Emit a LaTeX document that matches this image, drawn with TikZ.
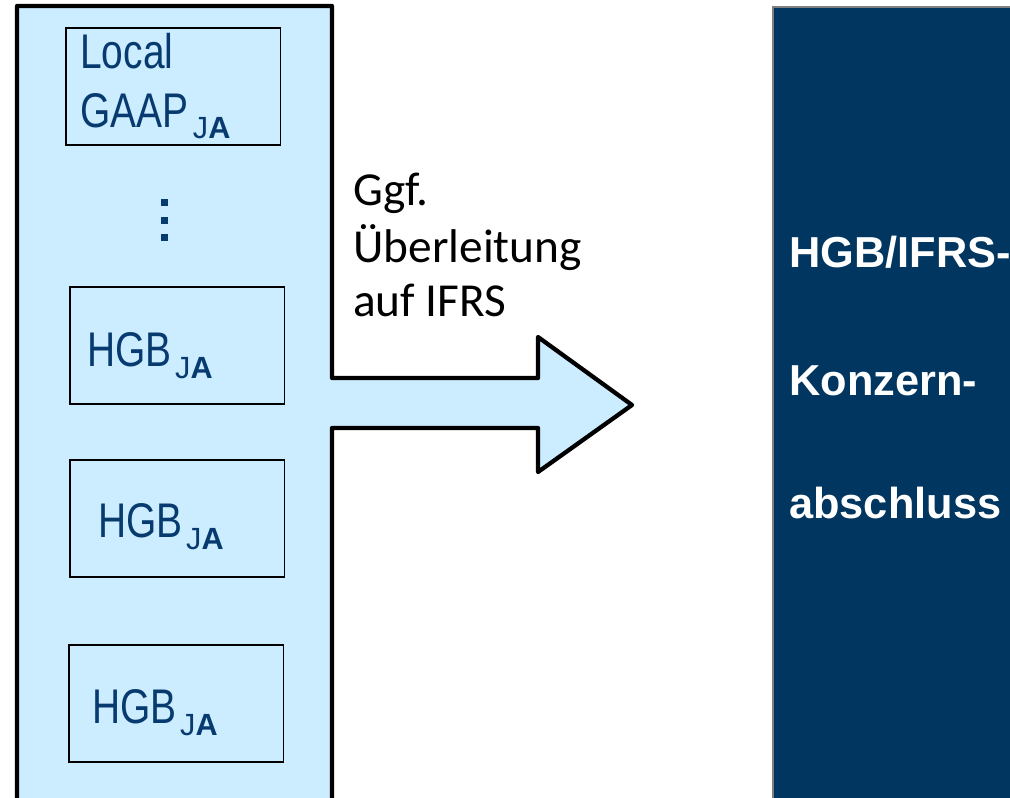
\documentclass[tikz,border=0pt]{standalone}
\usepackage{fontspec}
\usepackage{xcolor}
\usepackage{tikz}
\usetikzlibrary{calc}
\setmainfont{Liberation Sans}
\newfontfamily\narrowfont[FakeStretch=0.8]{Liberation Sans}
\newfontfamily\calfont{Carlito}
\definecolor{paleblue}{HTML}{CCECFF}
\definecolor{navy}{HTML}{00365F}
\definecolor{inkblue}{HTML}{073B70}

\tikzset{
  jabox/.style={draw=black, line width=1.2pt, minimum width=161pt, minimum height=87.75pt, inner sep=0pt, anchor=north west},
  jatext/.style={anchor=base west, inner sep=0pt, text=inkblue, font=\narrowfont\fontsize{36.5}{40}\selectfont},
  jasub/.style={anchor=base west, inner sep=0pt, text=inkblue, font=\fontsize{23}{25}\selectfont},
  note/.style={anchor=base west, inner sep=0pt, font=\calfont\fontsize{35.5}{42}\selectfont},
  ktext/.style={anchor=base west, inner sep=0pt, text=white, font=\bfseries\fontsize{32.5}{36}\selectfont},
}

\begin{document}
\begin{tikzpicture}[x=0.75pt, y=-0.75pt]
  \useasboundingbox (0,0) rectangle (1010,797);
  \clip (0,0) rectangle (1010,797);
  % Konzernabschluss
  \draw[fill=navy, draw=gray, line width=1.5pt] (773,7) rectangle (1030,820);
  \node[ktext] (k1) at (789,267) {HGB/IFRS-};
  \node[ktext] (k2) at (789,395) {Konzern-};
  \node[ktext] (k3) at (789,518) {abschluss};
  % Einzelabschluesse + Pfeil
  \draw[fill=paleblue, line width=3.2pt, line join=round]
    (17,6) -- (332,6) -- (332,378) -- (538,378) -- (538,337) -- (632,405)
    -- (538,472) -- (538,428) -- (332,428) -- (332,830) -- (17,830) -- cycle;
  \node[jabox] (local) at (65,27) {};
  \node[jatext] (localtxt) at (80,68) {Local};
  \node[jatext] (gaap) at (80,127) {GAAP};
  \node[jasub] (gaapsub) at ($(gaap.base east)+(4,11)$) {J\textbf{A}};
  \foreach \y in {199,216.5,234}
    \fill[inkblue] (160.5,\y) rectangle ++(7,7);
  \foreach \n/\bx/\by/\tx/\ty in {A/69/286/87/366, B/69/459/98/537, C/68/644/92/723} {
    \node[jabox] (hgb\n) at (\bx,\by) {};
    \node[jatext] (hgbtxt\n) at (\tx,\ty) {HGB};
    \node[jasub] (hgbsub\n) at ($(hgbtxt\n.base east)+(3,12)$) {J\textbf{A}};
  }
  \node[note] (ggf1) at (353,205) {Ggf.};
  \node[note] (ggf2) at (353,262) {Überleitung};
  \node[note] (ggf3) at (353,316) {auf IFRS};
\end{tikzpicture}
\end{document}
